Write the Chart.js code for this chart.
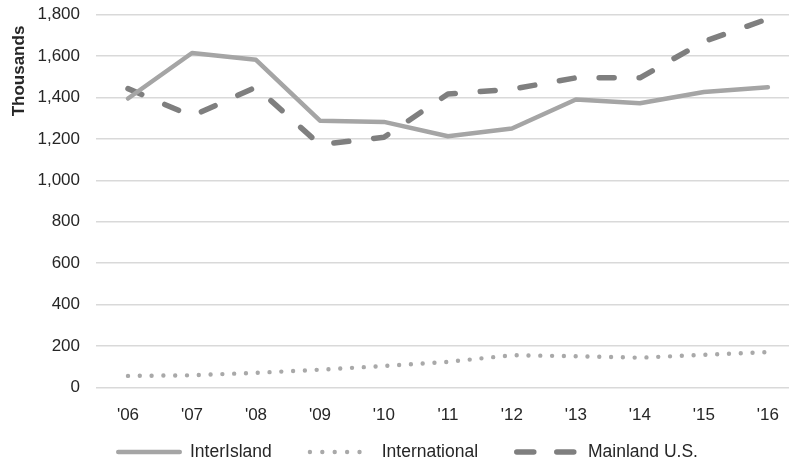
<!DOCTYPE html>
<html>
<head>
<meta charset="utf-8">
<script src="https://cdn.jsdelivr.net/npm/chart.js@4/dist/chart.umd.min.js"></script>
<style>
  html, body { margin: 0; padding: 0; background: #fff; }
  #wrap { width: 789px; height: 464px; position: relative; }
</style>
</head>
<body>
<div id="wrap"><canvas id="chart" width="789" height="464"></canvas></div>
<script>
// Visitor arrivals by year (thousands)
const years = ["'06", "'07", "'08", "'09", "'10", "'11", "'12", "'13", "'14", "'15", "'16"];
const interIsland = [1395, 1615, 1582, 1288, 1282, 1213, 1250, 1390, 1372, 1427, 1450];
const international = [55, 58, 70, 85, 103, 123, 155, 150, 143, 157, 170];
const mainlandUS = [1443, 1310, 1450, 1172, 1208, 1417, 1440, 1495, 1495, 1670, 1780];
const seriesNames = ['InterIsland', 'International', 'Mainland U.S.'];

const FONT = "'Liberation Sans', Arial, sans-serif";
const TEXT = '#262626';

const toPoints = arr => arr.map((v, i) => ({ x: i, y: v }));

// Vertical axis title, set near the top of the value axis
const axisTitle = {
  id: 'axisTitle',
  afterDraw(chart) {
    const ctx = chart.ctx;
    ctx.save();
    ctx.translate(19, 71);
    ctx.rotate(-Math.PI / 2);
    ctx.font = 'bold 17px ' + FONT;
    ctx.fillStyle = TEXT;
    ctx.textAlign = 'center';
    ctx.textBaseline = 'middle';
    ctx.fillText('Thousands', 0, 0);
    ctx.restore();
  }
};

// Legend drawn as line samples using each dataset's own stroke style
const lineLegend = {
  id: 'lineLegend',
  afterDraw(chart) {
    const ctx = chart.ctx;
    const sampleW = 66, textGap = 8, itemGap = 36, y = 452;
    ctx.save();
    ctx.font = '17.5px ' + FONT;
    ctx.textBaseline = 'middle';
    let x = 116;
    chart.data.datasets.forEach(ds => {
      ctx.save();
      ctx.strokeStyle = ds.borderColor;
      ctx.lineWidth = ds.borderWidth;
      ctx.lineCap = ds.borderCapStyle || 'butt';
      ctx.setLineDash(ds.legendDash || ds.borderDash || []);
      ctx.beginPath();
      const inset = ds.borderCapStyle === 'round' ? ds.borderWidth / 2 : 0;
      ctx.moveTo(x + inset, y);
      ctx.lineTo(x + sampleW - inset, y);
      ctx.stroke();
      ctx.restore();
      ctx.fillStyle = TEXT;
      ctx.fillText(ds.label, x + sampleW + textGap, y);
      x += sampleW + textGap + ctx.measureText(ds.label).width + itemGap;
    });
    ctx.restore();
  }
};

new Chart(document.getElementById('chart'), {
  type: 'line',
  data: {
    datasets: [
      {
        label: seriesNames[0],
        data: toPoints(interIsland),
        borderColor: '#a5a5a5',
        borderWidth: 4.5,
        borderCapStyle: 'round',
        borderJoinStyle: 'round'
      },
      {
        label: seriesNames[1],
        data: toPoints(international),
        borderColor: '#a9a9a9',
        borderWidth: 4.4,
        borderDash: [0, 11.8],
        legendDash: [0, 12.4],
        borderCapStyle: 'round',
        borderJoinStyle: 'round'
      },
      {
        label: seriesNames[2],
        data: toPoints(mainlandUS),
        borderColor: '#7f7f7f',
        borderWidth: 5.5,
        borderDash: [15, 25],
        legendDash: [17, 23],
        borderCapStyle: 'round',
        borderJoinStyle: 'round'
      }
    ]
  },
  options: {
    responsive: false,
    animation: false,
    events: [],
    elements: { point: { radius: 0 }, line: { tension: 0 } },
    layout: { padding: { top: 14.7, right: 0, bottom: 0, left: 0 } },
    plugins: {
      legend: { display: false },
      tooltip: { enabled: false },
      title: { display: false }
    },
    scales: {
      x: {
        type: 'linear',
        min: -0.5,
        max: 10.33,
        grid: { display: false },
        border: { display: false },
        afterBuildTicks(axis) {
          axis.ticks = years.map((_, i) => ({ value: i }));
        },
        afterFit(axis) {
          axis.height = 76.7;
          axis.paddingLeft = 0;
          axis.paddingRight = 0;
        },
        ticks: {
          autoSkip: false,
          maxRotation: 0,
          padding: 10,
          color: TEXT,
          font: { family: FONT, size: 17 },
          callback: v => years[v]
        }
      },
      y: {
        min: 0,
        max: 1800,
        afterFit(axis) {
          axis.width = 96;
          axis.paddingTop = 0;
          axis.paddingBottom = 0;
        },
        grid: { color: '#d9d9d9', lineWidth: 1.5, drawTicks: false },
        border: { display: false },
        ticks: {
          stepSize: 200,
          padding: 16,
          color: TEXT,
          font: { family: FONT, size: 17 },
          callback: v => v.toLocaleString('en-US')
        }
      }
    }
  },
  plugins: [axisTitle, lineLegend]
});
</script>
</body>
</html>
